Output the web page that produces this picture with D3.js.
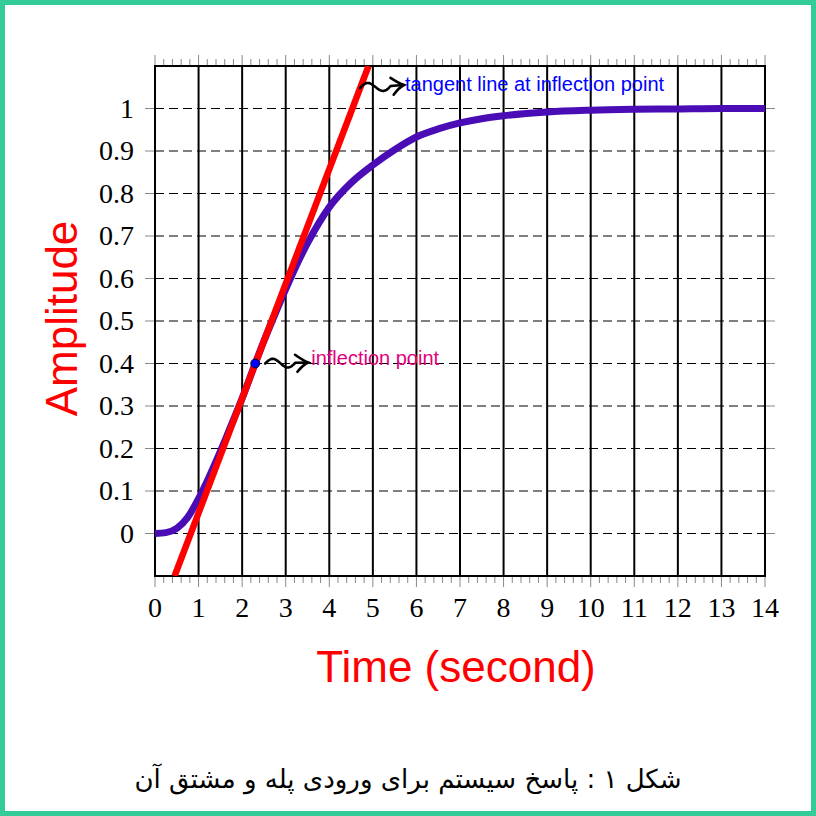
<!DOCTYPE html>
<html><head><meta charset="utf-8">
<script src="https://cdn.jsdelivr.net/npm/d3@7"></script>
<style>html,body{margin:0;padding:0;background:#fff;}svg{display:block;}</style>
</head><body>
<script>
// ---- data ----
const timeTicks = [0,1,2,3,4,5,6,7,8,9,10,11,12,13,14];
const ampTicks = [0,0.1,0.2,0.3,0.4,0.5,0.6,0.7,0.8,0.9,1];
const stepT = [0,0.25,0.5,0.75,1,1.25,1.5,1.75,2,2.3,2.5,2.75,3,3.25,3.5,4,4.5,5,5.5,6,6.5,7,7.5,8,9,10,11,12,13,14];
const stepY = [0,0.002,0.012,0.038,0.082,0.135,0.193,0.255,0.318,0.4,0.453,0.515,0.575,0.632,0.683,0.768,0.825,0.867,0.903,0.933,0.952,0.966,0.976,0.983,0.992,0.996,0.998,0.999,1,1];
const tangentT = [0.45, 4.9];
const tangentY = [-0.1, 1.1];
const inflectionT = 2.3, inflectionY = 0.4;
const xLabel = "Time (second)";
const yLabel = "Amplitude";
const inflText = "inflection point";
const tangText = "tangent line at inflection point";
const caption = "شکل ۱ : پاسخ سیستم برای ورودی پله و مشتق آن";

const W = 816, H = 816;
const svg = d3.select("body").append("svg").attr("width",W).attr("height",H);
svg.append("rect").attr("x",2.5).attr("y",2.5).attr("width",W-5).attr("height",H-5)
  .attr("fill","#fff").attr("stroke","#33cc99").attr("stroke-width",5);

const x = d3.scaleLinear().domain([0,14]).range([155,765]);
const y = d3.scaleLinear().domain([-0.1,1.1]).range([576,66]);

// horizontal dashed grid
svg.append("g").selectAll("line").data(ampTicks).join("line")
  .attr("x1",x(0)).attr("x2",x(14)).attr("y1",d=>y(d)).attr("y2",d=>y(d))
  .attr("stroke","#000").attr("stroke-width",1.2).attr("stroke-dasharray","9,5");
// vertical solid grid
svg.append("g").selectAll("line").data(timeTicks).join("line")
  .attr("x1",d=>x(d)).attr("x2",d=>x(d)).attr("y1",y(-0.1)).attr("y2",y(1.1))
  .attr("stroke","#000").attr("stroke-width",2);

// ticks
const minor = d3.range(0,14.001,0.2).map(v=>+v.toFixed(1)).filter(v=>Math.abs(v-Math.round(v))>1e-6);
const tickG = svg.append("g").attr("stroke","#888").attr("stroke-width",1);
[[y(-0.1),1],[y(1.1),-1]].forEach(([yy,dir])=>{
  tickG.append("g").selectAll("line").data(minor).join("line")
    .attr("x1",d=>x(d)).attr("x2",d=>x(d)).attr("y1",yy).attr("y2",yy+dir*7);
  tickG.append("g").selectAll("line").data(timeTicks).join("line")
    .attr("x1",d=>x(d)).attr("x2",d=>x(d)).attr("y1",yy).attr("y2",yy+dir*11);
});
[[x(0),-1],[x(14),1]].forEach(([xx,dir])=>{
  tickG.append("g").selectAll("line").data(ampTicks).join("line")
    .attr("x1",xx).attr("x2",xx+dir*10).attr("y1",d=>y(d)).attr("y2",d=>y(d));
});

// frame
svg.append("rect").attr("x",x(0)).attr("y",y(1.1)).attr("width",x(14)-x(0)).attr("height",y(-0.1)-y(1.1))
  .attr("fill","none").attr("stroke","#000").attr("stroke-width",2);

// tick labels
svg.append("g").selectAll("text").data(timeTicks).join("text")
  .attr("x",d=>x(d)).attr("y",617).attr("text-anchor","middle")
  .attr("font-family","'Liberation Serif', serif").attr("font-size",28).text(d=>d);
svg.append("g").selectAll("text").data(ampTicks).join("text")
  .attr("x",134).attr("y",d=>y(d)+9).attr("text-anchor","end")
  .attr("font-family","'Liberation Serif', serif").attr("font-size",28).text(d=>d);

// curves
svg.append("clipPath").attr("id","pc").append("rect")
  .attr("x",x(0)).attr("y",y(1.1)).attr("width",x(14)-x(0)).attr("height",y(-0.1)-y(1.1));
const stepData = stepT.map((t,i)=>[t,stepY[i]]);
svg.append("path").datum(stepData)
  .attr("d",d3.line().x(d=>x(d[0])).y(d=>y(d[1])).curve(d3.curveMonotoneX))
  .attr("fill","none").attr("stroke","#4a0db5").attr("stroke-width",7).attr("clip-path","url(#pc)");
const tanData = tangentT.map((t,i)=>[t,tangentY[i]]);
svg.append("path").datum(tanData)
  .attr("d",d3.line().x(d=>x(d[0])).y(d=>y(d[1])))
  .attr("fill","none").attr("stroke","#ff0000").attr("stroke-width",6.5).attr("clip-path","url(#pc)");

svg.append("circle").attr("cx",x(inflectionT)).attr("cy",y(inflectionY)).attr("r",4.5)
  .attr("fill","#0000ff").attr("stroke","#000").attr("stroke-width",0.8);

// snake arrows
function snakeArrow(x0,y0,x1,y1){
  const L = Math.hypot(x1-x0,y1-y0), a = Math.atan2(y1-y0,x1-x0);
  const Lw = L*0.7, amp = 4.5, pts = [];
  for(let i=0;i<=40;i++){const u=Lw*i/40; pts.push([u,-amp*Math.sin(2*Math.PI*u/Lw)]);}
  pts.push([L-1,0]);
  const g = svg.append("g").attr("transform",`translate(${x0},${y0}) rotate(${a*180/Math.PI})`)
    .attr("fill","none").attr("stroke","#000").attr("stroke-width",2.6).attr("stroke-linecap","round");
  g.append("path").attr("d",d3.line()(pts));
  g.append("path").attr("d",`M${L-13},${-8} Q${L-5},${-2} ${L},0 Q${L-5},${2} ${L-11},${9}`);
}
snakeArrow(x(inflectionT)+10, y(inflectionY), x(inflectionT)+53, y(inflectionY)-1);
snakeArrow(360, 88, 404, 85);

svg.append("text").attr("x",x(inflectionT)+56).attr("y",y(inflectionY)+1)
  .attr("font-family","'Liberation Sans', Arial, sans-serif").attr("font-size",20)
  .attr("fill","#e4007c").text(inflText);
svg.append("text").attr("x",405).attr("y",91)
  .attr("font-family","'Liberation Sans', Arial, sans-serif").attr("font-size",20)
  .attr("fill","#0000ff").text(tangText);

// axis labels
svg.append("text").attr("x",456).attr("y",682).attr("text-anchor","middle")
  .attr("font-family","'Liberation Sans', Arial, sans-serif").attr("font-size",44)
  .attr("fill","#ff0000").text(xLabel);
svg.append("text").attr("transform","translate(76.5,318.5) rotate(-90)").attr("text-anchor","middle")
  .attr("font-family","'Liberation Sans', Arial, sans-serif").attr("font-size",44)
  .attr("fill","#ff0000").text(yLabel);

// caption (normal right-to-left Persian)
svg.append("text").attr("x",408).attr("y",788).attr("text-anchor","middle")
  .attr("direction","rtl").attr("font-family","'DejaVu Sans', sans-serif").attr("font-size",26)
  .attr("fill","#000").text(caption);
</script>
</body></html>
